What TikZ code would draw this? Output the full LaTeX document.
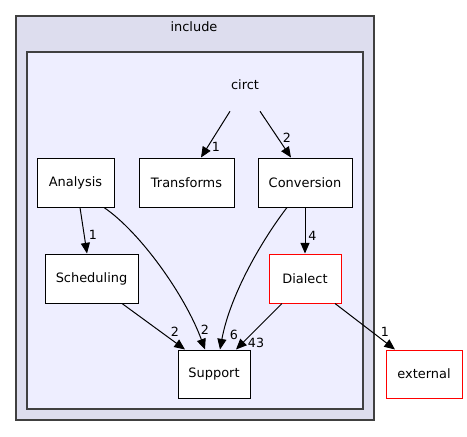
\documentclass[tikz,border=0pt]{standalone}
\usepackage{fontspec}
\setmainfont{DejaVu Sans}
\usetikzlibrary{arrows.meta,calc}
\definecolor{outerfill}{HTML}{DDDDEE}
\definecolor{innerfill}{HTML}{EEEEFF}
\definecolor{clusterline}{HTML}{404040}
\tikzset{
  cluster/.style={draw=clusterline,line width=1.1pt},
  dirbox/.style={draw=black,fill=white,line width=0.75pt,inner sep=0pt,minimum height=36.75pt,font=\fontsize{9.7pt}{11pt}\selectfont},
  extbox/.style={dirbox,draw=red},
  edge/.style={-{Triangle[length=8pt,width=6.8pt]},line width=0.75pt},
  elabel/.style={font=\fontsize{9.5pt}{11pt}\selectfont,inner sep=0pt}
}
\begin{document}
\begin{tikzpicture}[x=0.75pt,y=-0.75pt]
\useasboundingbox (0,0) rectangle (467,436);
\fill[white] (0,0) rectangle (467,436);
% clusters
\draw[cluster,fill=outerfill] (16,16) rectangle (374,420);
\node[font=\fontsize{9.7pt}{11pt}\selectfont] (includelbl) at (194,27) {include};
\draw[cluster,fill=innerfill] (27,52) rectangle (363,409);
\node[inner sep=0pt,minimum width=45pt,minimum height=39pt,font=\fontsize{9.7pt}{11pt}\selectfont] (circt) at (245,85) {circt};
% nodes
\node[dirbox,minimum width=57.75pt] (analysis) at (75.5,182.5) {Analysis};
\node[dirbox,minimum width=71.25pt] (transforms) at (186.5,182.5) {Transforms};
\node[dirbox,minimum width=70.5pt] (conversion) at (305,182.5) {Conversion};
\node[dirbox,minimum width=69.75pt] (scheduling) at (91.5,278.5) {Scheduling};
\node[extbox,minimum width=54pt] (dialect) at (305,278.5) {Dialect};
\node[dirbox,minimum width=54pt,minimum height=36pt] (support) at (214,374) {Support};
\node[extbox,minimum width=57pt,minimum height=36pt] (external) at (424,374) {external};
% edges
\draw[edge] ($(circt.south)+(-15,0)$) -- ($(transforms.north)+(14.5,0)$);
\node[elabel] (l1) at (216,147) {1};
\draw[edge] ($(circt.south)+(15,0)$) -- ($(conversion.north)+(-14,0)$);
\node[elabel] (l2) at (287,138) {2};
\draw[edge] ($(analysis.south)+(4.5,0)$) -- ($(scheduling.north)+(-4.5,0)$);
\node[elabel] (l3) at (93,235) {1};
\draw[edge] ($(analysis.south)+(28.5,0)$) .. controls (140,232) and (185,295) .. ($(support.north)+(-9,0)$);
\node[elabel] (l4) at (205,330) {2};
\draw[edge] ($(conversion.south)+(-18,0)$) .. controls (262,240) and (230,295) .. ($(support.north)+(6,0)$);
\node[elabel] (l5) at (234,335) {6};
\draw[edge] (conversion.south) -- (dialect.north);
\node[elabel] (l6) at (312.5,236) {4};
\draw[edge] ($(scheduling.south)+(30.5,0)$) -- ($(support.north)+(-29,0)$);
\node[elabel] (l7) at (175,332) {2};
\draw[edge] ($(dialect.south)+(-23,0)$) -- ($(support.north)+(22,0)$);
\node[elabel] (l8) at (256,343) {43};
\draw[edge] ($(dialect.south)+(30,0)$) -- ($(external.north)+(-29,0)$);
\node[elabel] (l9) at (385,332) {1};
\end{tikzpicture}
\end{document}
